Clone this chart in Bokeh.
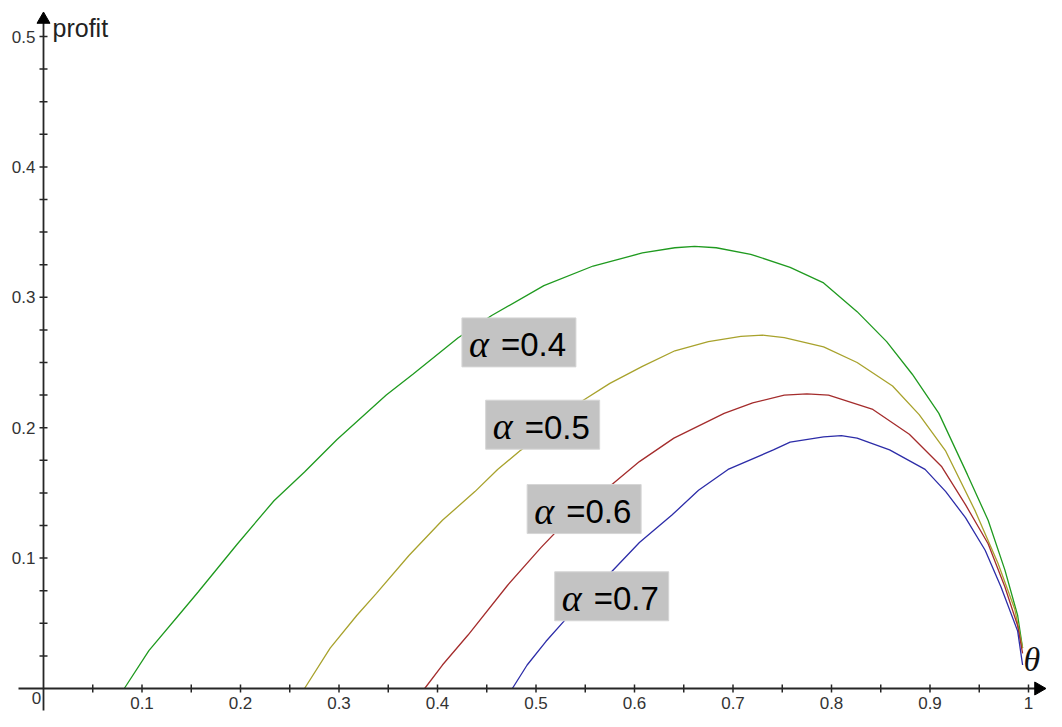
import numpy as np
from bokeh.plotting import figure
from bokeh.models import Range1d
from bokeh.core.properties import value
from bokeh.embed import file_html
from bokeh.resources import INLINE

# ---------------- data ----------------
theta_a04 = [0.082, 0.107, 0.137, 0.157, 0.197, 0.234, 0.265, 0.298, 0.348, 0.375, 0.421,
             0.455, 0.508, 0.558, 0.608, 0.641, 0.661, 0.683, 0.718, 0.758, 0.792, 0.826,
             0.856, 0.882, 0.909, 0.938, 0.959, 0.976, 0.989, 0.994]
profit_a04 = [0.000, 0.029, 0.056, 0.074, 0.111, 0.144, 0.166, 0.191, 0.225, 0.241, 0.269,
              0.286, 0.309, 0.324, 0.334, 0.338, 0.339, 0.338, 0.333, 0.323, 0.311, 0.289,
              0.266, 0.241, 0.211, 0.164, 0.129, 0.091, 0.056, 0.031]

theta_a05 = [0.265, 0.291, 0.318, 0.338, 0.371, 0.405, 0.438, 0.461, 0.485, 0.548, 0.575,
             0.608, 0.641, 0.675, 0.708, 0.730, 0.752, 0.792, 0.826, 0.862, 0.889, 0.916,
             0.946, 0.969, 0.986, 0.994]
profit_a05 = [0.000, 0.031, 0.056, 0.073, 0.102, 0.129, 0.151, 0.168, 0.183, 0.221, 0.234,
              0.247, 0.259, 0.266, 0.270, 0.271, 0.269, 0.262, 0.250, 0.232, 0.210, 0.182,
              0.136, 0.096, 0.061, 0.031]

theta_a06 = [0.387, 0.405, 0.431, 0.471, 0.505, 0.538, 0.578, 0.605, 0.640, 0.691, 0.720,
             0.752, 0.775, 0.797, 0.842, 0.879, 0.912, 0.936, 0.959, 0.976, 0.989, 0.994]
profit_a06 = [0.000, 0.018, 0.041, 0.079, 0.108, 0.134, 0.157, 0.174, 0.192, 0.211, 0.219,
              0.225, 0.226, 0.225, 0.214, 0.195, 0.170, 0.141, 0.111, 0.078, 0.048, 0.027]

theta_a07 = [0.476, 0.491, 0.510, 0.530, 0.550, 0.576, 0.605, 0.638, 0.665, 0.695, 0.741,
             0.758, 0.792, 0.810, 0.826, 0.859, 0.895, 0.916, 0.936, 0.956, 0.972, 0.989, 0.994]
profit_a07 = [0.000, 0.018, 0.036, 0.053, 0.071, 0.089, 0.112, 0.133, 0.152, 0.168, 0.183,
              0.189, 0.193, 0.194, 0.192, 0.183, 0.168, 0.151, 0.131, 0.106, 0.078, 0.044, 0.018]

alpha_values = ["0.4", "0.5", "0.6", "0.7"]
series_colors = ["#1f9a1f", "#a8a22c", "#a42c2c", "#2c2ca8"]
label_theta = [0.4248, 0.4489, 0.4910, 0.5190]   # top-left corner of each label box
label_profit = [0.2842, 0.2211, 0.1564, 0.0895]

x_major = [0.1, 0.2, 0.3, 0.4, 0.5, 0.6, 0.7, 0.8, 0.9, 1.0]
x_major_labels = ["0.1", "0.2", "0.3", "0.4", "0.5", "0.6", "0.7", "0.8", "0.9", "1"]
y_major = [0.1, 0.2, 0.3, 0.4, 0.5]
y_major_labels = ["0.1", "0.2", "0.3", "0.4", "0.5"]

# ---------------- layout ----------------
W, H = 1046, 711
X0, SX = 43, 985      # pixel of theta=0, pixels per unit
Y0, SY = 688, 1304    # pixel (from top) of profit=0, pixels per unit

p = figure(width=W, height=H,
           x_range=Range1d(-X0 / SX, (W - X0) / SX),
           y_range=Range1d(-(H - Y0) / SY, Y0 / SY),
           output_backend="svg", toolbar_location=None,
           x_axis_location=None, y_axis_location=None,
           min_border=0, min_border_left=0, min_border_right=0,
           min_border_top=0, min_border_bottom=0)
p.xgrid.grid_line_color = None
p.ygrid.grid_line_color = None
p.outline_line_color = None
p.background_fill_color = "white"
p.border_fill_color = "white"

AX = "#262626"
sans = value("Liberation Sans")

# curves
for th, pr, c in zip([theta_a04, theta_a05, theta_a06, theta_a07],
                     [profit_a04, profit_a05, profit_a06, profit_a07], series_colors):
    p.line(th, pr, line_color=c, line_width=1.3)

# axes lines
p.line([-25 / SX, 1 + 8 / SX], [0, 0], line_color=AX, line_width=1.8)
p.line([0, 0], [-22 / SY, 0.5 + 16 / SY], line_color=AX, line_width=1.8)
# arrow heads
p.scatter([0], [0.5 + 17 / SY], marker="triangle", size=13, fill_color="black",
          line_color="black")
p.scatter([1 + 10 / SX], [0], marker="triangle", size=13, angle=-np.pi / 2,
          fill_color="black", line_color="black")

# ticks
xt = np.round(np.arange(1, 21) * 0.05, 3)
p.segment(x0=xt, y0=-4 / SY, x1=xt, y1=4 / SY, line_color=AX, line_width=1.5)
yt = np.round(np.arange(1, 21) * 0.025, 4)
p.segment(x0=-4 / SX, y0=yt, x1=4 / SX, y1=yt, line_color=AX, line_width=1.5)

# tick labels
p.text(x=x_major, y=[0] * len(x_major), text=x_major_labels, text_font=sans,
       text_font_size="17px", text_color="#333333", text_align="center",
       text_baseline="middle", y_offset=14)
p.text(x=[0], y=[0], text=["0"], text_font=sans, text_font_size="17px",
       text_color="#333333", text_align="center", text_baseline="middle",
       x_offset=-7, y_offset=9)
p.text(x=[0] * len(y_major), y=y_major, text=y_major_labels, text_font=sans,
       text_font_size="17px", text_color="#333333", text_align="right",
       text_baseline="middle", x_offset=-8)

# axis titles
p.text(x=[0], y=[0.5], text=["profit"], text_font=sans, text_font_size="25px",
       text_color="#222222", text_align="left", text_baseline="middle",
       x_offset=9, y_offset=-9)
p.text(x=[1], y=[0], text=["θ"], text_font=value("Liberation Serif"),
       text_font_style="italic", text_font_size="34px", text_color="#111111",
       text_align="left", text_baseline="middle", x_offset=-5, y_offset=-29)

# labels
BW, BH = 114, 49
lt = np.array(label_theta)
lp = np.array(label_profit)
p.quad(left=lt, right=lt + BW / SX, top=lp, bottom=lp - BH / SY,
       fill_color="#c3c3c3", line_color="#d6d6d6", line_width=1)
p.text(x=lt, y=lp, text=["α"] * 4, text_font=value("Liberation Serif"),
       text_font_style="italic", text_font_size="38px", text_color="black",
       text_align="left", text_baseline="middle", x_offset=7, y_offset=26)
p.text(x=lt, y=lp, text=["=" + a for a in alpha_values], text_font=sans,
       text_font_size="33px", text_color="black", text_align="left",
       text_baseline="middle", x_offset=39, y_offset=27)

open("out.html", "w").write(file_html(p, INLINE))
